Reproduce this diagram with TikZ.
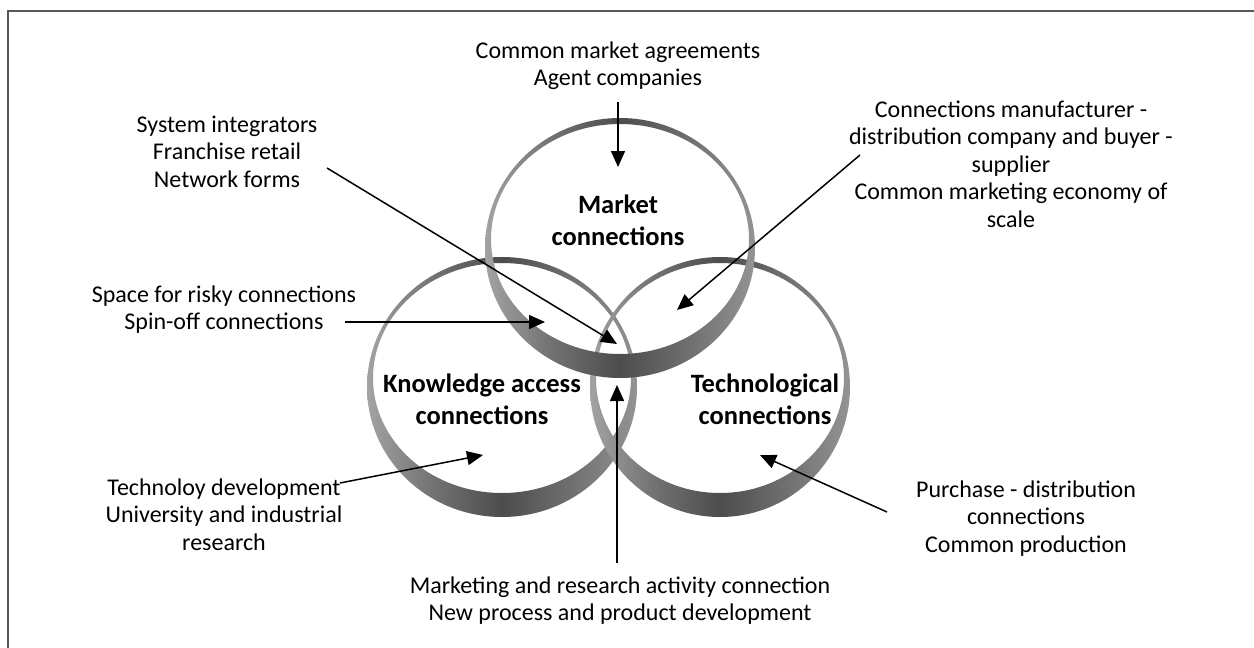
\documentclass[tikz,border=0pt]{standalone}
\usepackage{fontspec}
\setmainfont{Carlito}
\usetikzlibrary{arrows.meta}

% light at the sides of a ring, dark in its middle
\pgfdeclarehorizontalshading{ringshade}{100bp}{%
  color(0bp)=(black!36); color(25bp)=(black!36); color(37bp)=(black!55);
  color(50bp)=(black!70); color(63bp)=(black!56); color(75bp)=(black!42);
  color(100bp)=(black!42)}

% centred lines whose baseline is the baseline of the first line
\newcommand\mlines[1]{\begin{tabular}[t]{@{}c@{}}#1\end{tabular}}

% a shaded ribbon ring: thin at the top, wide at the bottom
% #1,#2 centre, #3 horizontal radius
\newcommand\ringband[3]{%
  \shade[band] (#1,#2) ellipse [x radius=#3pt, y radius=130pt]
               (#1,#2-9) ellipse [x radius=#3pt-6pt, y radius=115pt];}

\begin{document}
\begin{tikzpicture}[x=1pt, y=-1pt,
  lbl/.style={anchor=base, inner sep=0pt, font=\fontsize{24}{27.5}\selectfont},
  title/.style={anchor=base, inner sep=0pt, font=\fontsize{26.5}{32}\selectfont\bfseries},
  pointer/.style={line width=1.5pt, -{Triangle[length=16pt, width=14pt]}},
  band/.style={shading=ringshade, even odd rule}]

\useasboundingbox (0,0) rectangle (1254,648);
\clip (0,0) rectangle (1254,648);
\fill[white] (0,0) rectangle (1254,648);
\draw[black!65, line width=2pt] (8,11) rectangle (1270,670);

% the three rings
\ringband{502}{387}{135}
\ringband{720}{387}{130}
\ringband{620}{248}{135}

% ring titles
\node[title] (market) at (618,213) {\mlines{Market\\connections}};
\node[title] (knowledge) at (482,392) {\mlines{Knowledge access\\connections}};
\node[title] (techno) at (765,392) {\mlines{Technological\\connections}};

% outer labels
\node[lbl] (agree) at (618,58) {\mlines{Common market agreements\\Agent companies}};
\node[lbl] (integr) at (227,132) {\mlines{System integrators\\Franchise retail\\Network forms}};
\node[lbl] (risky) at (224,302) {\mlines{Space for risky connections\\Spin-off connections}};
\node[lbl] (manuf) at (1011,117) {\mlines{Connections manufacturer -\\distribution company and buyer -\\supplier\\Common marketing economy of\\scale}};
\node[lbl] (techdev) at (224,495) {\mlines{Technoloy development\\University and industrial\\research}};
\node[lbl] (purch) at (1026,497) {\mlines{Purchase - distribution\\connections\\Common production}};
\node[lbl] (mkres) at (620,593) {\mlines{Marketing and research activity connection\\New process and product development}};

% arrow ends
\coordinate (agreeS) at (618,102);  \coordinate (agreeT) at (618,167);
\coordinate (integrS) at (327,168); \coordinate (integrT) at (617,344);
\coordinate (riskyS) at (345,322);  \coordinate (riskyT) at (545,322);
\coordinate (manufS) at (860,155);  \coordinate (manufT) at (677,310);
\coordinate (techdevS) at (340,483); \coordinate (techdevT) at (483,455);
\coordinate (purchS) at (887,512);  \coordinate (purchT) at (760,455);
\coordinate (mkresS) at (617,563);  \coordinate (mkresT) at (617,385);

\draw[pointer] (agreeS) -- (agreeT);
\draw[pointer] (integrS) -- (integrT);
\draw[pointer] (riskyS) -- (riskyT);
\draw[pointer] (manufS) -- (manufT);
\draw[pointer] (techdevS) -- (techdevT);
\draw[pointer] (purchS) -- (purchT);
\draw[pointer] (mkresS) -- (mkresT);
\end{tikzpicture}
\end{document}
